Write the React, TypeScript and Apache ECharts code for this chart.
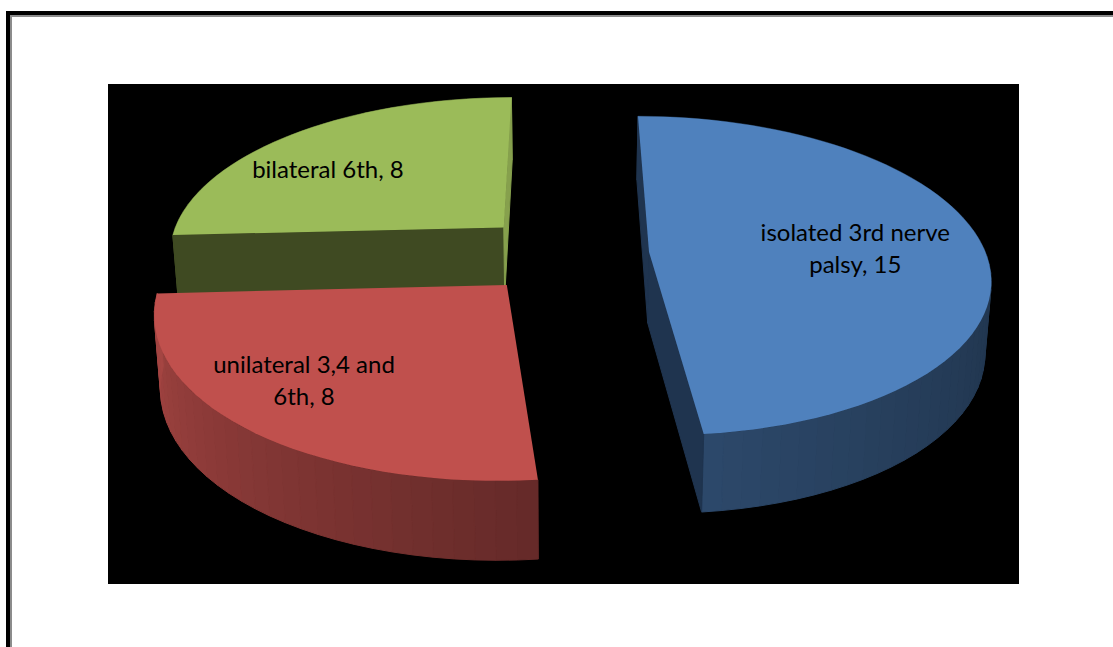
import React, { useEffect, useRef } from "react";
import * as echarts from "echarts";

// Cranial nerve palsy groups
const categories = ["isolated 3rd nerve\npalsy", "unilateral 3,4 and\n6th", "bilateral 6th"];
const values = [15, 8, 8];
const topColors = ["#4f81bd", "#c0504d", "#9bbb59"];
const startFaceColors = ["#1f344f", "#5e2a28", "#3f4a22"];
const endFaceColors = ["#1f344f", "#5e2a28", "#86a04d"];
const wallShade = [[0.37, 0.56], [0.53, 0.86], [0.45, 0.6]];
const wallCurve = [2.5, 1, 1];
const labelRadius = [0.6, 0.72, 0.72];
const labelShift = [[6, 0], [-20, -4], [-20, 10]];

// Exploded pie on a tilted plane, seen in perspective
const startClock = 0;
const explode = 0.253;
const cx = 564;
const cy = 254;
const scaleX = 337;
const scaleY = 156.5;
const perspective = 0.149;
const depth = 71;
const depthGrowth = 0.1;
const bottomShrink = 0.985;
const arcStep = 2.5;
const wallBandDeg = 3;

const rad = (d: number) => (d * Math.PI) / 180;
const total = values.reduce((a, b) => a + b, 0);

function sliceAngles(i: number) {
  const before = values.slice(0, i).reduce((a, b) => a + b, 0);
  const a0 = startClock + (before / total) * 360;
  const a1 = a0 + (values[i] / total) * 360;
  return [a0, a1, (a0 + a1) / 2];
}

function planePoint(mid: number, clock: number, r: number) {
  const u = explode * Math.sin(rad(mid)) + r * Math.sin(rad(clock));
  const v = -explode * Math.cos(rad(mid)) - r * Math.cos(rad(clock));
  return [u, v];
}

function topPoint(mid: number, clock: number, r: number) {
  const [u, v] = planePoint(mid, clock, r);
  const w = 1 - perspective * v;
  return [cx + (scaleX * u) / w, cy + (scaleY * v) / w];
}

function bottomPoint(mid: number, clock: number, r: number) {
  const [u, v] = planePoint(mid, clock, r);
  const [x, y] = topPoint(mid, clock, r);
  return [cx + (x - cx) * bottomShrink, y + depth * (1 + depthGrowth * v)];
}

function shade(hex: string, f: number) {
  const n = parseInt(hex.slice(1), 16);
  const ch = (s: number) => Math.round(((n >> s) & 255) * f);
  return `rgb(${ch(16)},${ch(8)},${ch(0)})`;
}

// Winding of the first corner of a quad on screen, used to cull hidden cut faces
function winding(p: number[][]) {
  const ab = [p[1][0] - p[0][0], p[1][1] - p[0][1]];
  const bc = [p[2][0] - p[1][0], p[2][1] - p[1][1]];
  return ab[0] * bc[1] - ab[1] * bc[0];
}

const renderSlice = (i: number) => {
  const [a0, a1, mid] = sliceAngles(i);
  const children: any[] = [];
  const quad = (points: number[][], color: string) =>
    children.push({
      type: "polygon",
      shape: { points },
      style: { fill: color, stroke: color, lineWidth: 1 },
      silent: true,
    });

  // Curved outer wall, shaded band by band
  const bands = Math.ceil((a1 - a0) / wallBandDeg);
  for (let b = 0; b < bands; b++) {
    const s = a0 + ((a1 - a0) * b) / bands;
    const e = a0 + ((a1 - a0) * (b + 1)) / bands;
    const t = Math.pow(b / (bands - 1), wallCurve[i]);
    const f = wallShade[i][0] + (wallShade[i][1] - wallShade[i][0]) * t;
    quad(
      [topPoint(mid, s, 1), topPoint(mid, e, 1), bottomPoint(mid, e, 1), bottomPoint(mid, s, 1)],
      shade(topColors[i], f),
    );
  }

  // Radial cut faces that turn toward the viewer
  const startFace = [topPoint(mid, a0, 0), topPoint(mid, a0, 1), bottomPoint(mid, a0, 1), bottomPoint(mid, a0, 0)];
  const endFace = [topPoint(mid, a1, 0), topPoint(mid, a1, 1), bottomPoint(mid, a1, 1), bottomPoint(mid, a1, 0)];
  if (winding(startFace) < 0) quad(startFace, startFaceColors[i]);
  if (winding(endFace) > 0) quad(endFace, endFaceColors[i]);

  // Top surface
  const rim: number[][] = [topPoint(mid, a0, 0)];
  const steps = Math.ceil((a1 - a0) / arcStep);
  for (let k = 0; k <= steps; k++) rim.push(topPoint(mid, a0 + ((a1 - a0) * k) / steps, 1));
  children.push({
    type: "polygon",
    shape: { points: rim },
    style: { fill: topColors[i] },
    silent: true,
  });

  const [lx, ly] = topPoint(mid, mid, labelRadius[i]);
  children.push({
    type: "text",
    x: lx + labelShift[i][0],
    y: ly + labelShift[i][1],
    style: {
      text: `${categories[i]}, ${values[i]}`,
      fill: "#000000",
      fontFamily: "Lato",
      fontSize: 24,
      lineHeight: 32,
      align: "center",
      verticalAlign: "middle",
    },
    silent: true,
  });
  return { type: "group", children };
};

// Back slices first so the nearer ones cover them
const paintOrder = [2, 0, 1];

export default function App() {
  const ref = useRef<HTMLDivElement>(null);
  useEffect(() => {
    const chart = echarts.init(ref.current!, undefined, { renderer: "svg" });
    chart.setOption({
      animation: false,
      backgroundColor: "#ffffff",
      graphic: [
        { type: "rect", z: 0, shape: { x: 6, y: 11, width: 1107, height: 636 }, style: { fill: "#000000" } },
        { type: "rect", z: 0, shape: { x: 10, y: 15, width: 1103, height: 632 }, style: { fill: "#8c8c8c" } },
        { type: "rect", z: 0, shape: { x: 12, y: 17, width: 1101, height: 630 }, style: { fill: "#ffffff" } },
        { type: "rect", z: 0, shape: { x: 108, y: 84, width: 911, height: 500 }, style: { fill: "#000000" } },
      ],
      series: paintOrder.map((idx) => ({
        type: "custom",
        coordinateSystem: "none",
        z: 5,
        silent: true,
        data: [[values[idx]]],
        renderItem: () => renderSlice(idx),
      })),
    });
    return () => chart.dispose();
  }, []);
  return <div ref={ref} style={{ position: "fixed", left: 0, top: 0, width: 1113, height: 647 }} />;
}
